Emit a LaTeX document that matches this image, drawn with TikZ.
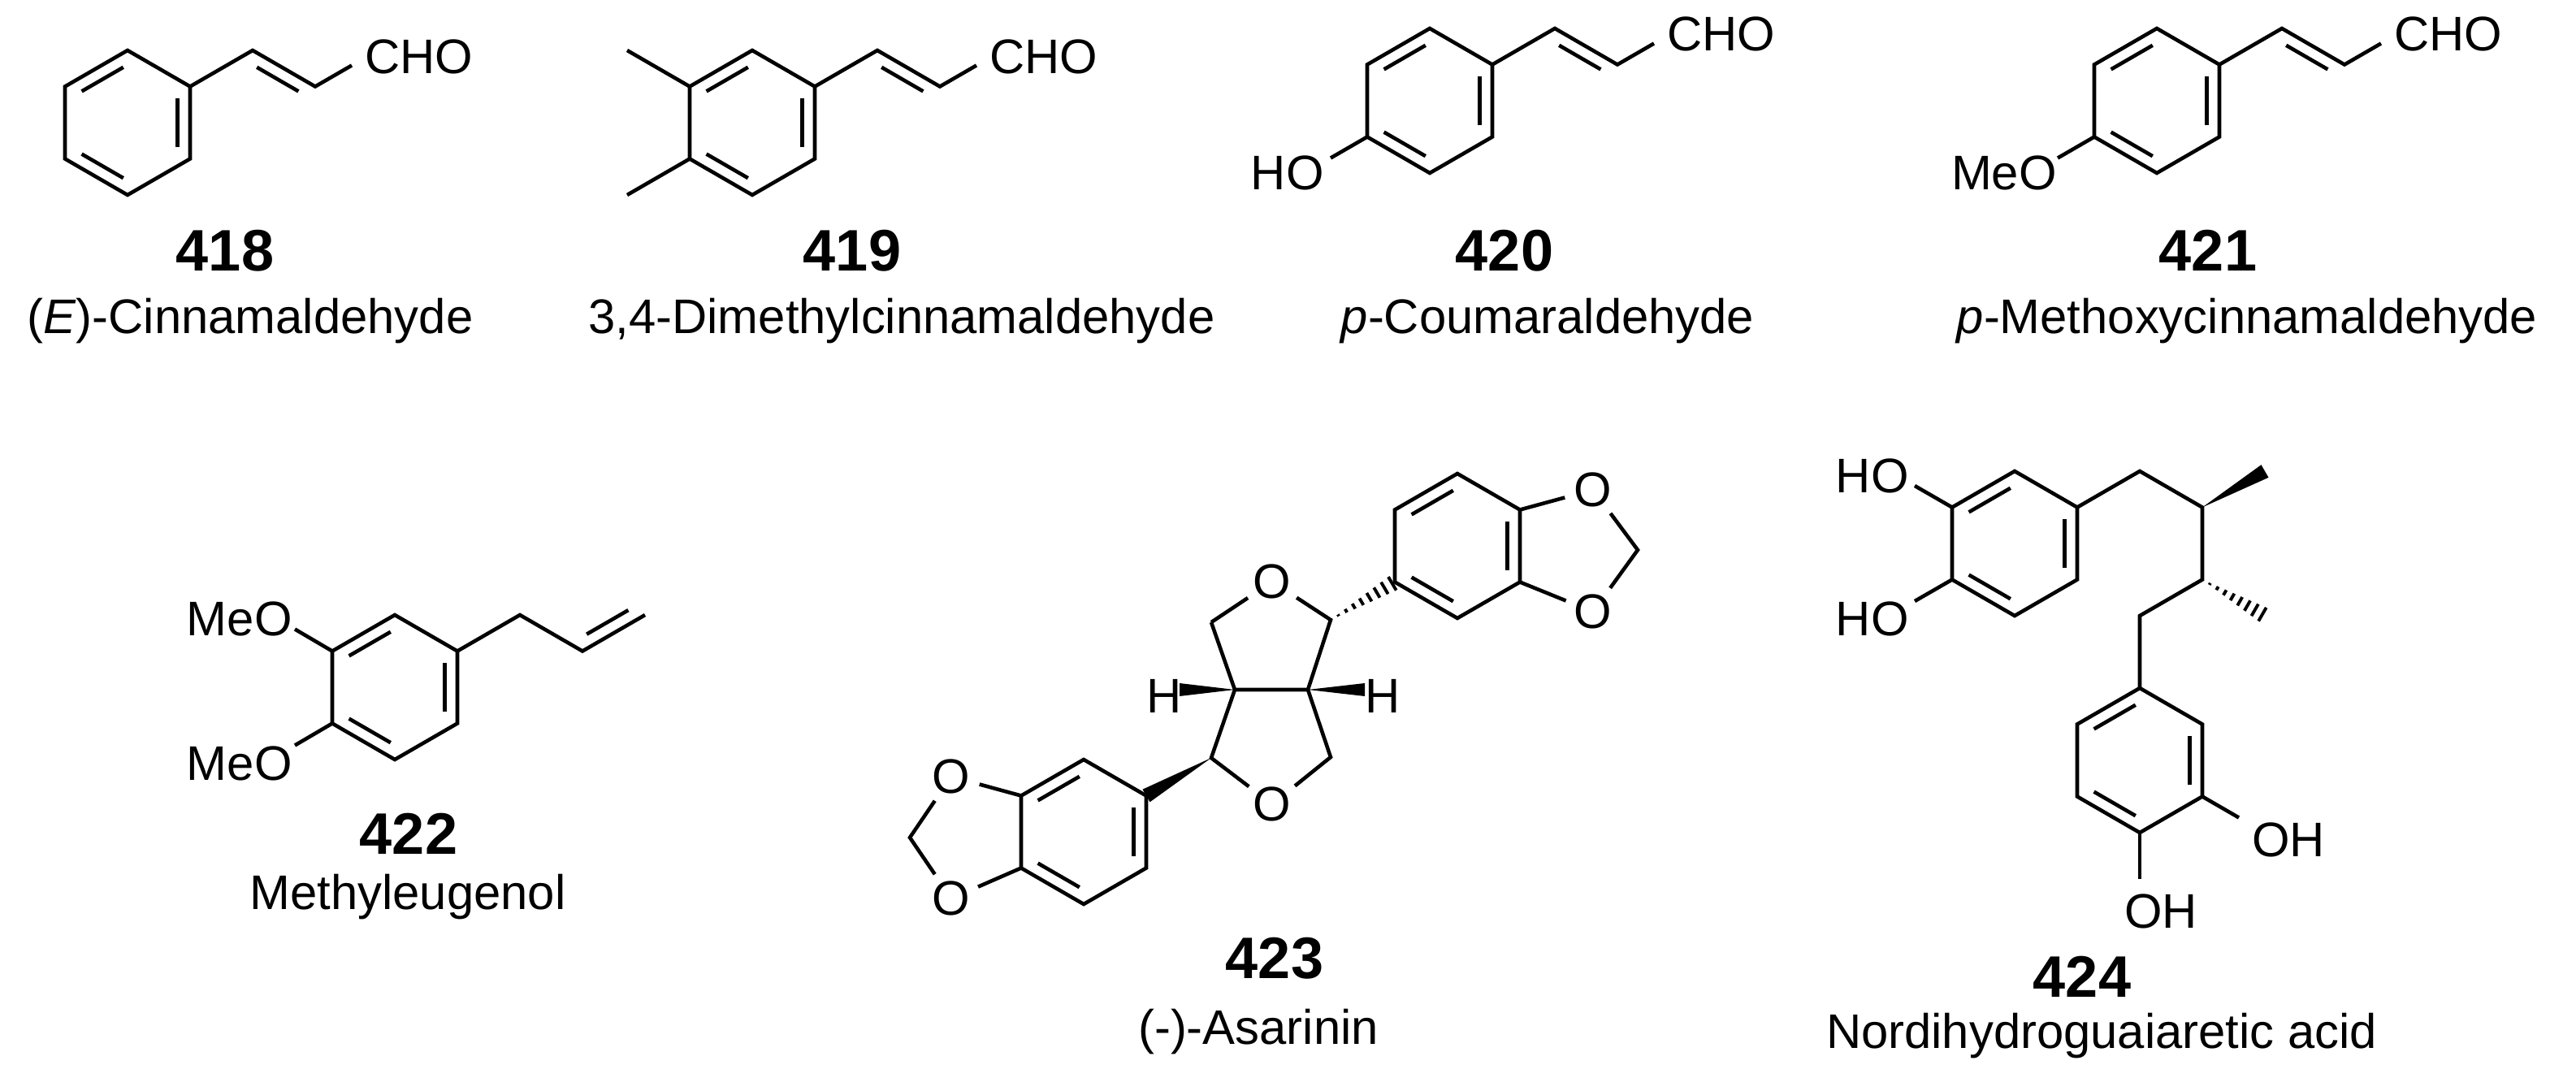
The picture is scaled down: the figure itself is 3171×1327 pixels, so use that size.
\documentclass[tikz,border=0pt]{standalone}
\usepackage{fontspec}
\setmainfont{Liberation Sans}
\usetikzlibrary{calc}
\tikzset{
  bond/.style={line width=1.3pt},
  inner/.style={line width=1.3pt, shorten <=0.06cm, shorten >=0.06cm},
  atom/.style={inner sep=0.5pt, font=\fontsize{17}{20}\selectfont},
  ringO/.style={circle, inner sep=0.8pt, font=\fontsize{17}{20}\selectfont},
  cpdnum/.style={inner sep=0pt, anchor=base, font=\fontsize{20.5}{24}\selectfont\bfseries},
  cpdname/.style={inner sep=0pt, anchor=base, font=\fontsize{17}{20}\selectfont}
}
\newcommand{\benzring}[3]{%
  \coordinate (#1c) at (#2,#3);
  \coordinate (#1-1) at (#2,#3-89);
  \coordinate (#1-2) at (#2+77,#3-44.5);
  \coordinate (#1-3) at (#2+77,#3+44.5);
  \coordinate (#1-4) at (#2,#3+89);
  \coordinate (#1-5) at (#2-77,#3+44.5);
  \coordinate (#1-6) at (#2-77,#3-44.5);
  \draw[bond] (#1-1)--(#1-2)--(#1-3)--(#1-4)--(#1-5)--(#1-6)--cycle;
  \draw[inner] ($(#1-6)!.2!(#1c)$) -- ($(#1-1)!.2!(#1c)$);
  \draw[inner] ($(#1-2)!.2!(#1c)$) -- ($(#1-3)!.2!(#1c)$);
  \draw[inner] ($(#1-4)!.2!(#1c)$) -- ($(#1-5)!.2!(#1c)$);
}
\newcommand{\dblin}[3]{\draw[inner] ($(#1)!.2!(#3)$) -- ($(#2)!.2!(#3)$);}
\newcommand{\wedgebond}[3]{\fill ($(#1)$) -- ($(#2)!#3!90:(#1)$) -- ($(#2)!#3!-90:(#1)$) -- cycle;}
\newcommand{\hashbond}[2]{%
  \foreach \t in {0.12,0.24,0.36,0.48,0.60,0.72,0.84,0.96} {
    \pgfmathsetmacro\hw{\t*0.1}
    \coordinate (hp) at ($(#1)!\t!(#2)$);
    \draw[line width=1.1pt] ($(hp)!\hw cm!90:(#2)$) -- ($(hp)!\hw cm!-90:(#2)$);
  }}
\begin{document}
\begin{tikzpicture}[x=0.01cm,y=-0.01cm]
\useasboundingbox (0,0) rectangle (3171,1327);
% ---------- 418 ----------
\benzring{a}{157}{151}
\coordinate (a7) at (311,62); \coordinate (a8) at (388,106.5); \coordinate (a9) at (433,80.5);
\draw[bond] (a-2)--(a7)--(a8)--(a9);
\coordinate (a7c) at (311,151); \dblin{a7}{a8}{a7c}
\node[atom, anchor=west] (aCHO) at (447,70) {CHO};
\node[cpdnum] (n418) at (277,333) {418};
\node[cpdname] (t418) at (308,410) {(\textit{E})-Cinnamaldehyde};
% ---------- 419 ----------
\benzring{b}{926}{151}
\coordinate (b7) at (1080,62); \coordinate (b8) at (1157,106.5); \coordinate (b9) at (1202,80.5);
\draw[bond] (b-2)--(b7)--(b8)--(b9);
\coordinate (b7c) at (1080,151); \dblin{b7}{b8}{b7c}
\coordinate (bm1) at (772,62); \coordinate (bm2) at (772,240);
\draw[bond] (b-6)--(bm1); \draw[bond] (b-5)--(bm2);
\node[atom, anchor=west] (bCHO) at (1216,70) {CHO};
\node[cpdnum] (n419) at (1049,333) {419};
\node[cpdname] (t419) at (1110,410) {3,4-Dimethylcinnamaldehyde};
% ---------- 420 ----------
\benzring{c}{1760}{124}
\coordinate (c7) at (1914,35); \coordinate (c8) at (1991,79.5); \coordinate (c9) at (2036,53.5);
\draw[bond] (c-2)--(c7)--(c8)--(c9);
\coordinate (c7c) at (1914,124); \dblin{c7}{c8}{c7c}
\coordinate (cO) at (1638,194.5); \draw[bond] (c-5)--(cO);
\node[atom, anchor=west] (cCHO) at (2050,42) {CHO};
\node[atom, anchor=east] (cHO) at (1632,213) {HO};
\node[cpdnum] (n420) at (1852,333) {420};
\node[cpdname] (t420) at (1905,410) {\textit{p}-Coumaraldehyde};
% ---------- 421 ----------
\benzring{d}{2655}{124}
\coordinate (d7) at (2809,35); \coordinate (d8) at (2886,79.5); \coordinate (d9) at (2931,53.5);
\draw[bond] (d-2)--(d7)--(d8)--(d9);
\coordinate (d7c) at (2809,124); \dblin{d7}{d8}{d7c}
\coordinate (dO) at (2533,194.5); \draw[bond] (d-5)--(dO);
\node[atom, anchor=west] (dCHO) at (2945,42) {CHO};
\node[atom, anchor=east] (dMeO) at (2534,213) {MeO};
\node[cpdnum] (n421) at (2718,333) {421};
\node[cpdname] (t421) at (2766,410) {\textit{p}-Methoxycinnamaldehyde};
% ---------- 422 ----------
\benzring{e}{486}{846}
\coordinate (e7) at (640,757); \coordinate (e8) at (717,801.5); \coordinate (e9) at (794,757);
\draw[bond] (e-2)--(e7)--(e8)--(e9);
\coordinate (e8c) at (717,712.5); \dblin{e8}{e9}{e8c}
\coordinate (eO1) at (363,774.5); \coordinate (eO2) at (363,917.5);
\draw[bond] (e-6)--(eO1); \draw[bond] (e-5)--(eO2);
\node[atom, anchor=east] (eMeO1) at (362,762) {MeO};
\node[atom, anchor=east] (eMeO2) at (362,940) {MeO};
\node[cpdnum] (n422) at (503,1051) {422};
\node[cpdname] (t422) at (502,1119) {Methyleugenol};
% ---------- 423 ----------
\benzring{f}{1334}{1024}
\node[ringO] (fO1) at (1171,956) {O};
\node[ringO] (fO2) at (1171,1106) {O};
\coordinate (fCH2) at (1120,1031);
\draw[bond] (f-6)--(fO1)--(fCH2)--(fO2)--(f-5);
\benzring{g}{1794}{672}
\node[ringO] (gO1) at (1961,603) {O};
\node[ringO] (gO2) at (1961,753) {O};
\coordinate (gCH2) at (2016,677);
\draw[bond] (g-2)--(gO1)--(gCH2)--(gO2)--(g-3);
\node[ringO] (Ot) at (1566,716) {O};
\node[ringO] (Ob) at (1566,990) {O};
\coordinate (Cr) at (1638,763); \coordinate (CHr) at (1610,849);
\coordinate (CHl) at (1520,849); \coordinate (CH2l) at (1491,766);
\coordinate (Cl) at (1491,933); \coordinate (CH2r) at (1638,932);
\draw[bond] (CH2l)--(Ot)--(Cr)--(CHr)--(CHl)--(CH2l);
\draw[bond] (CHl)--(Cl)--(Ob)--(CH2r)--(CHr);
\wedgebond{Cl}{f-2}{0.09cm}
\hashbond{Cr}{g-5}
\coordinate (Hlw) at (1452,849); \coordinate (Hrw) at (1680,849);
\wedgebond{CHl}{Hlw}{0.08cm}
\wedgebond{CHr}{Hrw}{0.08cm}
\node[atom] (Hl) at (1433,857) {H};
\node[atom] (Hr) at (1702,857) {H};
\node[cpdnum] (n423) at (1569,1204) {423};
\node[cpdname] (t423) at (1549,1285) {(-)-Asarinin};
% ---------- 424 ----------
\benzring{h}{2480}{669}
\coordinate (hO1) at (2357,598); \coordinate (hO2) at (2357,740);
\draw[bond] (h-6)--(hO1); \draw[bond] (h-5)--(hO2);
\node[atom, anchor=east] (hHO1) at (2352,586) {HO};
\node[atom, anchor=east] (hHO2) at (2352,762) {HO};
\coordinate (hA) at (2634,580); \coordinate (hC1) at (2711,624.5);
\coordinate (hMe1) at (2788,580); \coordinate (hC2) at (2711,713.5);
\coordinate (hMe2) at (2788,758); \coordinate (hB) at (2634,758);
\draw[bond] (h-2)--(hA)--(hC1)--(hC2)--(hB)--(2634,847);
\wedgebond{hC1}{hMe1}{0.09cm}
\hashbond{hC2}{hMe2}
\benzring{k}{2634}{936}
\coordinate (kO1) at (2756,1006.5); \coordinate (kO2) at (2634,1082);
\draw[bond] (k-3)--(kO1); \draw[bond] (k-4)--(kO2);
\node[atom, anchor=west] (kOH1) at (2770,1034) {OH};
\node[atom, anchor=west] (kOH2) at (2613,1122) {OH};
\node[cpdnum] (n424) at (2563,1227) {424};
\node[cpdname] (t424) at (2587,1290) {Nordihydroguaiaretic acid};
\end{tikzpicture}
\end{document}
